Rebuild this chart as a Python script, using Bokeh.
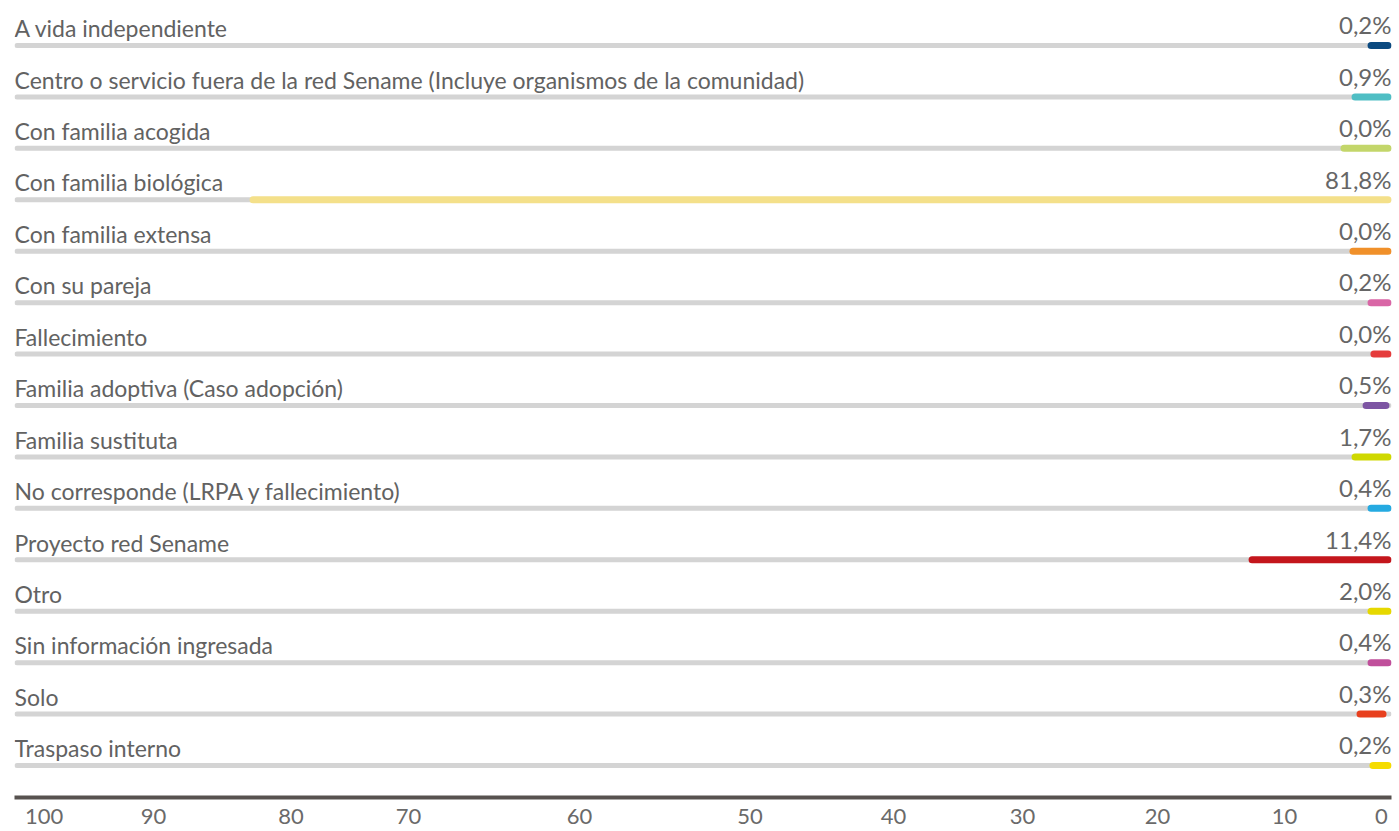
from bokeh.plotting import figure
from bokeh.models import Range1d, FixedTicker, ColumnDataSource
from bokeh.core.properties import value
from bokeh.embed import file_html
from bokeh.resources import INLINE

# ---------------- data ----------------
categories = [
    "A vida independiente",
    "Centro o servicio fuera de la red Sename (Incluye organismos de la comunidad)",
    "Con familia acogida",
    "Con familia biológica",
    "Con familia extensa",
    "Con su pareja",
    "Fallecimiento",
    "Familia adoptiva (Caso adopción)",
    "Familia sustituta",
    "No corresponde (LRPA y fallecimiento)",
    "Proyecto red Sename",
    "Otro",
    "Sin información ingresada",
    "Solo",
    "Traspaso interno",
]
values = [0.2, 0.9, 0.0, 81.8, 0.0, 0.2, 0.0, 0.5, 1.7, 0.4, 11.4, 2.0, 0.4, 0.3, 0.2]
# drawn bar extents (axis runs 100 -> 0)
bar_from = [1.74, 2.90, 3.70, 82.93, 3.05, 1.74, 1.53, 2.10, 2.90, 1.74, 10.38, 1.74, 1.74, 2.54, 1.60]
bar_to = [0.0, 0.0, 0.0, 0.0, 0.0, 0.0, 0.0, 0.15, 0.0, 0.0, 0.0, 0.0, 0.0, 0.36, 0.0]
colors = ["#0b4a80", "#4fbec4", "#c3d66a", "#f4e08a", "#f0902a", "#d966a6", "#e53c3c",
          "#7d55a3", "#cfd800", "#25aae1", "#c4161c", "#e6d800", "#c04f9b", "#e8401e", "#f5dc00"]
tick_labels = ["100", "90", "80", "70", "60", "50", "40", "30", "20", "10", "0"]
tick_positions = [97.85, 89.9, 79.92, 71.39, 58.97, 46.59, 36.17, 26.8, 16.99, 7.77, 0.73]

# ---------------- layout ----------------
W, H = 1395, 831
FRAME_H = 797
ROW_PX = 51.43
FIRST_PX = 45.0
n = len(categories)
rows = list(range(n))
y_start = (FRAME_H - FIRST_PX) / ROW_PX
y_end = -FIRST_PX / ROW_PX

FONT = value("Lato")
LABEL_SHIFT = 17.3   # px above bar (alphabetic baseline compensation)
VALUE_SHIFT = 20.7

p = figure(width=W, height=H, output_backend="svg", toolbar_location=None,
           x_range=Range1d(100, 0), y_range=Range1d(y_start, y_end),
           min_border_left=14, min_border_right=4, min_border_top=0, min_border_bottom=H - FRAME_H)
p.outline_line_color = None
p.grid.visible = False
p.yaxis.visible = False
p.background_fill_color = "white"

# tracks
track_src = ColumnDataSource(dict(y=rows, left=[100] * n, right=[0] * n))
p.hbar(y="y", left="left", right="right", height=5 / ROW_PX, source=track_src,
       fill_color="#d4d4d4", line_color=None, border_radius=3)

# bars
bar_src = ColumnDataSource(dict(y=rows, left=bar_from, right=bar_to, color=colors))
p.hbar(y="y", left="left", right="right", height=7 / ROW_PX, source=bar_src,
       fill_color="color", line_color=None, border_radius=4)

# category labels
lab_src = ColumnDataSource(dict(x=[100] * n, y=[i - LABEL_SHIFT / ROW_PX for i in rows], text=categories))
p.text(x="x", y="y", text="text", source=lab_src, text_font=FONT, text_font_size="23px",
       text_color="#626262", text_align="left", text_baseline="alphabetic")

# value labels
val_text = [f"{v:.1f}".replace(".", ",") + "%" for v in values]
val_src = ColumnDataSource(dict(x=[0] * n, y=[i - VALUE_SHIFT / ROW_PX for i in rows], text=val_text))
p.text(x="x", y="y", text="text", source=val_src, text_font=FONT, text_font_size="24px",
       text_color="#666666", text_align="right", text_baseline="alphabetic")

# x axis
ax = p.xaxis[0]
ax.ticker = FixedTicker(ticks=tick_positions)
ax.major_label_overrides = {t: l for t, l in zip(tick_positions, tick_labels)}
ax.axis_line_color = "#57524f"
ax.axis_line_width = 4
ax.major_tick_line_color = None
ax.minor_tick_line_color = None
ax.major_tick_in = 0
ax.major_tick_out = 0
ax.minor_tick_in = 0
ax.minor_tick_out = 0
ax.major_label_standoff = 11
ax.major_label_text_font = "Lato"
ax.major_label_text_font_size = "22px"
ax.major_label_text_color = "#6a6a6a"

open("out.html", "w").write(file_html(p, INLINE))
